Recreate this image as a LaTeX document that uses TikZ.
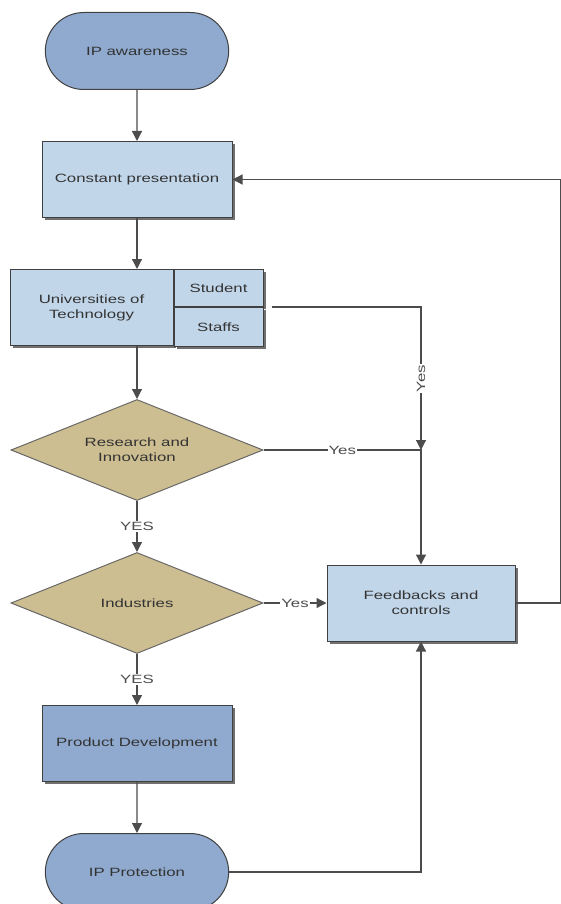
\documentclass[tikz,border=0pt]{standalone}
\usepackage{fontspec}
\setmainfont[FakeStretch=1.4]{Liberation Sans}
\usetikzlibrary{positioning,shapes.geometric,shapes.misc,shadows,arrows.meta}
\definecolor{darkblue}{HTML}{8FAACE}
\definecolor{lightblue}{HTML}{C2D6EA}
\definecolor{tan}{HTML}{CDBE91}
\definecolor{ink}{HTML}{333333}
\begin{document}
\begin{tikzpicture}[x=1pt, y=-1pt, node distance={51pt},
  font=\fontsize{12}{15}\selectfont, text=ink,
  term/.style = {draw=black!75, line width=1pt, rounded rectangle, fill=darkblue, minimum width=190pt, minimum height=77pt},
  box/.style = {draw=black!75, line width=1pt, fill=lightblue, minimum width=190pt, minimum height=76pt, align=center,
    drop shadow={shadow xshift=2.5pt, shadow yshift=-2.5pt, fill=black!70, opacity=0.8}},
  subbox/.style = {draw=black!75, line width=1pt, fill=lightblue, minimum width=89pt, inner sep=0pt,
    drop shadow={shadow xshift=2.5pt, shadow yshift=-2.5pt, fill=black!70, opacity=0.8}},
  decision/.style = {draw=black!60, line width=1pt, diamond, fill=tan, aspect=2.52, minimum width=252pt, minimum height=101pt, inner sep=0pt, align=center},
  flow/.style = {draw=black!70, line width=1.2pt, -{Triangle[length=10pt, width=10pt]}},
  lbl/.style = {fill=white, inner sep=1pt, text=black!70}]
\useasboundingbox (0,0) rectangle (561,904);
\node[term] (aware) at (137,51) {IP awareness};
\node[box] (cp) [below=of aware] {Constant presentation};
\node[box, minimum width=163pt] (uni) [below=of cp, xshift=-45.5pt] {Universities of\\Technology};
\node[subbox, anchor=north west, minimum height=37pt] (student) at (uni.north east) {Student};
\node[subbox, anchor=north west, minimum height=39pt] (staffs) at (student.south west) {Staffs};
\node[decision] (research) [below=53pt of uni, xshift=45.5pt] {Research and\\Innovation};
\node[decision] (ind) [below=of research] {Industries};
\node[box, fill=darkblue] (prod) [below=of ind] {Product Development};
\node[term] (prot) [below=of prod] {IP Protection};
\node[box, minimum width=188pt] (fb) [right=63pt of ind] {Feedbacks and\\controls};
\coordinate (junc) at (fb.north |- research.east);
\draw[flow] (aware) -- (cp);
\draw[flow] (cp) -- (uni.north -| cp.south);
\draw[flow] (uni.south -| research.north) -- (research);
\draw[flow] (research) -- node[lbl] {YES} (ind);
\draw[flow] (ind) -- node[lbl] {YES} (prod);
\draw[flow] (prod) -- (prot);
\draw[flow] ([xshift=8pt]staffs.north east) -| node[lbl, pos=0.75, rotate=90] {Yes} (junc);
\draw[flow] (research.east) -- node[lbl] {Yes} (junc) -- (fb.north);
\draw[flow] (ind.east) -- node[lbl] {Yes} (fb.west);
\draw[flow] (prot.east) -| (fb.south);
\draw[flow] (fb.east) -- ++(45pt,0) |- (cp.east);
\end{tikzpicture}
\end{document}
